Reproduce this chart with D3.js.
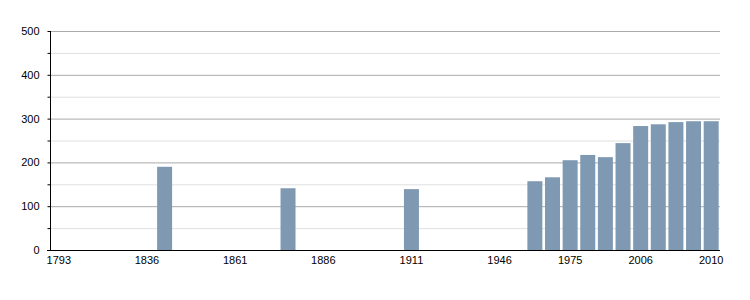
<!DOCTYPE html>
<html>
<head>
<meta charset="utf-8">
<script src="https://cdn.jsdelivr.net/npm/d3@7.9.0/dist/d3.min.js"></script>
<style>
  body { margin: 0; background: #fff; }
  svg { display: block; font-family: 'Liberation Sans', Arial, sans-serif; }
</style>
</head>
<body>
<svg id="chart" width="750" height="300"></svg>
<script>
// census years (categorical slots), population, and which years get a label
const years = [1793, 1800, 1806, 1821, 1831, 1836, 1841, 1846, 1851, 1856,
  1861, 1866, 1872, 1876, 1881, 1886, 1891, 1896, 1901, 1906,
  1911, 1921, 1926, 1931, 1936, 1946, 1954, 1962, 1968, 1975,
  1982, 1990, 1999, 2006, 2007, 2008, 2009, 2010];
const population = [null, null, null, null, null, null, 190, null, null, null,
  null, null, null, 141, null, null, null, null, null, null,
  139, null, null, null, null, null, null, 157, 166, 205,
  217, 212, 244, 283, 287, 292, 294, 294];
const labelYears = [1793, 1836, 1861, 1886, 1911, 1946, 1975, 2006, 2010];
const yMajor = [0, 100, 200, 300, 400, 500];
const yMinor = [50, 150, 250, 350, 450];

const margin = { left: 50, right: 30, top: 31, bottom: 50 };
const width = 750, height = 300;

const svg = d3.select('#chart');

const x = d3.scaleBand()
  .domain(years)
  .range([margin.left, width - margin.right])
  .paddingInner(0.15)
  .paddingOuter(0.075);

const y = d3.scaleLinear()
  .domain([0, 500])
  .range([height - margin.bottom, margin.top]);

// grid lines
svg.append('g')
  .selectAll('line.minor')
  .data(yMinor)
  .join('line')
  .attr('x1', margin.left).attr('x2', width - margin.right)
  .attr('y1', d => y(d) + 0.5).attr('y2', d => y(d) + 0.5)
  .attr('stroke', '#e0e0e0');

svg.append('g')
  .selectAll('line.major')
  .data(yMajor.slice(1))
  .join('line')
  .attr('x1', margin.left).attr('x2', width - margin.right)
  .attr('y1', d => y(d) + 0.5).attr('y2', d => y(d) + 0.5)
  .attr('stroke', '#aaaaaa');

// bars
const rows = years.map((yr, i) => ({ year: yr, value: population[i] }))
  .filter(d => d.value != null);

svg.append('g')
  .selectAll('rect')
  .data(rows)
  .join('rect')
  .attr('x', d => x(d.year))
  .attr('width', x.bandwidth())
  .attr('y', d => y(d.value))
  .attr('height', d => y(0) - y(d.value))
  .attr('fill', '#7f99b2');

// y axis
const yAxis = d3.axisLeft(y)
  .tickValues(yMajor.concat(yMinor).sort(d3.ascending))
  .tickSize(3)
  .tickPadding(8)
  .tickFormat(d => d % 100 === 0 ? d : '');

svg.append('g')
  .attr('transform', `translate(${margin.left + 0.5},0)`)
  .call(yAxis)
  .call(g => g.select('.domain').attr('stroke', '#000').attr('d', `M0,${margin.top}V${y(0)}`))
  .call(g => g.selectAll('.tick line').attr('stroke', '#000'))
  .call(g => g.selectAll('.tick text').attr('fill', '#000').attr('font-size', 11)
    .attr('font-family', "'Liberation Sans', Arial, sans-serif"));

// x axis
const xAxis = d3.axisBottom(x)
  .tickValues(labelYears)
  .tickSize(0)
  .tickPadding(6);

svg.append('g')
  .attr('transform', `translate(0,${y(0) + 0.5})`)
  .call(xAxis)
  .call(g => g.select('.domain').attr('stroke', '#000').attr('stroke-width', 1.2)
    .attr('d', `M${margin.left - 3},0H${width - margin.right}`))
  .call(g => g.selectAll('.tick text').attr('fill', '#000').attr('font-size', 11)
    .attr('font-family', "'Liberation Sans', Arial, sans-serif"));
</script>
</body>
</html>
